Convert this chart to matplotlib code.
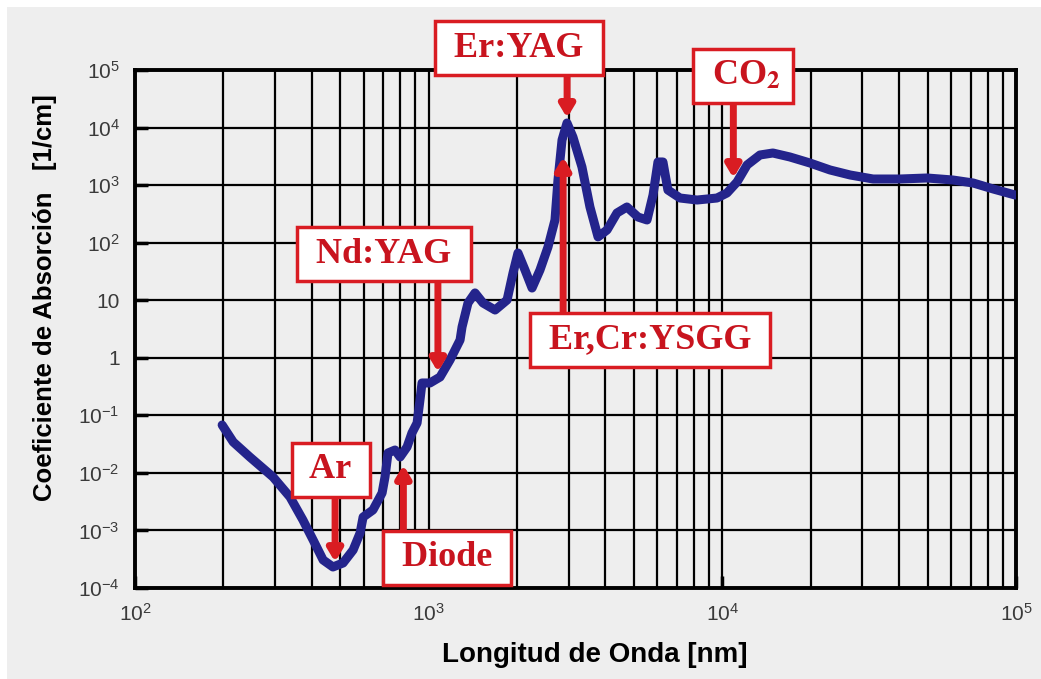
import matplotlib
matplotlib.use('Agg')
import matplotlib.pyplot as plt
from matplotlib.patches import Rectangle
from matplotlib.ticker import FixedLocator, FixedFormatter, LogLocator, NullFormatter

# curva de absorcion del agua
wavelength_nm = [198, 216, 246, 295, 337, 373, 404, 437, 472, 511, 553, 584, 598,
                 646, 694, 710, 727, 768, 799, 844, 877, 913, 934, 949, 1010, 1093,
                 1182, 1279, 1299, 1361, 1438, 1531, 1683, 1849, 1937, 2014, 2128,
                 2249, 2393, 2548, 2692, 2756, 2845, 2958, 3099, 3326, 3541, 3773,
                 4048, 4377, 4733, 5160, 5540, 5807, 6036, 6277, 6526, 7176, 8204,
                 9590, 10370, 11220, 12140, 13430, 14860, 16980, 19870, 23260,
                 27230, 32620, 40270, 49760, 60970, 71440, 83610, 99340]
absorption = [0.068, 0.0344, 0.0189, 0.0085, 0.00382, 0.00152, 0.000684, 0.000307,
              0.000232, 0.000272, 0.000458, 0.000904, 0.00171, 0.00227, 0.00448,
              0.0085, 0.0222, 0.025, 0.0189, 0.0282, 0.0494, 0.0736, 0.185, 0.365,
              0.365, 0.463, 0.916, 2.04, 3.43, 8.96, 13.4, 8.96, 6.76, 10.1, 29.7,
              66.2, 33.5, 16.3, 33.5, 84, 248, 1227, 6080, 12000, 6850, 2065, 417,
              126, 166, 328, 417, 279, 248, 673, 2524, 2524, 822, 597, 551, 597,
              730, 1133, 2240, 3337, 3614, 3083, 2423, 1833, 1500, 1277, 1277,
              1330, 1227, 1089, 857, 673]

# laseres: etiqueta, longitud de onda, posicion de la caja y punta de la flecha
lasers = ['Ar', 'Diode', 'Nd:YAG', 'Er,Cr:YSGG', 'Er:YAG', r'CO$_\mathbf{2}$']
laser_nm = [480, 820, 1075, 2870, 2960, 10900]
label_x = [465, 1154, 705, 5670, 2030, 11760]
label_y = [0.01125, 3.33e-4, 63.5, 2.04, 2.41e5, 7.87e4]
arrow_tip = [2.83e-4, 0.0137, 0.566, 3080, 1.47e4, 1330]

x_ticks = [1e2, 1e3, 1e4, 1e5]
x_ticklabels = ['$10^2$', '$10^3$', '$10^4$', '$10^5$']
y_ticks = [1e-4, 1e-3, 1e-2, 1e-1, 1, 10, 1e2, 1e3, 1e4, 1e5]
y_ticklabels = ['$10^{-4}$', '$10^{-3}$', '$10^{-2}$', '$10^{-1}$', '1', '10',
                '$10^2$', '$10^3$', '$10^4$', '$10^5$']

plt.rcParams['font.family'] = ['Liberation Sans', 'DejaVu Sans']
plt.rcParams['mathtext.fontset'] = 'custom'
plt.rcParams['mathtext.rm'] = 'Liberation Sans'
plt.rcParams['mathtext.it'] = 'Liberation Sans:italic'
plt.rcParams['mathtext.bf'] = 'Liberation Sans:bold'

bg = '#eeeeee'
red = '#d91c22'
blue = '#24248c'

fig = plt.figure(figsize=(10.41, 6.79), dpi=100)
fig.patch.set_facecolor('white')
fig.patches.append(Rectangle((7 / 1041, 0), 1, 672 / 679, transform=fig.transFigure,
                             facecolor=bg, edgecolor='none', zorder=-10))

ax = fig.add_axes([0.1297, 0.1340, 0.8463, 0.7629])
ax.set_facecolor(bg)
ax.set_xscale('log')
ax.set_yscale('log')
ax.set_xlim(1e2, 1e5)
ax.set_ylim(1e-4, 1e5)

ax.xaxis.set_major_locator(FixedLocator(x_ticks))
ax.xaxis.set_major_formatter(FixedFormatter(x_ticklabels))
ax.xaxis.set_minor_locator(LogLocator(base=10, subs=range(2, 10)))
ax.xaxis.set_minor_formatter(NullFormatter())
ax.yaxis.set_major_locator(FixedLocator(y_ticks))
ax.yaxis.set_major_formatter(FixedFormatter(y_ticklabels))
ax.yaxis.set_minor_locator(FixedLocator([]))

ax.xaxis.grid(True, which='both', color='black', lw=1.6)
ax.yaxis.grid(True, which='major', color='black', lw=1.6)
ax.set_axisbelow(True)
for s in ax.spines.values():
    s.set_linewidth(2.8)
ax.tick_params(which='major', direction='in', length=9, width=2.5,
               labelsize=15, labelcolor='#3a3a3a', pad=11)
ax.tick_params(which='minor', length=0)

ax.plot(wavelength_nm, absorption, color=blue, lw=6.5, solid_joinstyle='round',
        solid_capstyle='round', zorder=3)

for name, wl, lx, ly, tip in zip(lasers, laser_nm, label_x, label_y, arrow_tip):
    ax.annotate('', xy=(wl, tip), xytext=(wl, ly), annotation_clip=False,
                arrowprops=dict(arrowstyle='-|>,head_length=0.5,head_width=0.3',
                                color=red, lw=5, mutation_scale=14,
                                shrinkA=0, shrinkB=0), zorder=4)
    ax.text(lx, ly, ' ' + name + ' ', ha='center', va='center', fontsize=26,
            family='Liberation Serif', weight='bold', color='#c8141e',
            math_fontfamily='stix', zorder=5, clip_on=False,
            bbox=dict(boxstyle='square,pad=0.28', facecolor='white',
                      edgecolor=red, lw=2.5))

ax.set_xlabel('Longitud de Onda [nm]', fontsize=20, weight='bold')
ax.set_ylabel('Coeficiente de Absorción   [1/cm]', fontsize=18.5, weight='bold')
ax.xaxis.set_label_coords(0.522, -0.105)
ax.yaxis.set_label_coords(-0.088, 0.56)

fig.savefig('out.png', dpi=100, facecolor=fig.get_facecolor())
